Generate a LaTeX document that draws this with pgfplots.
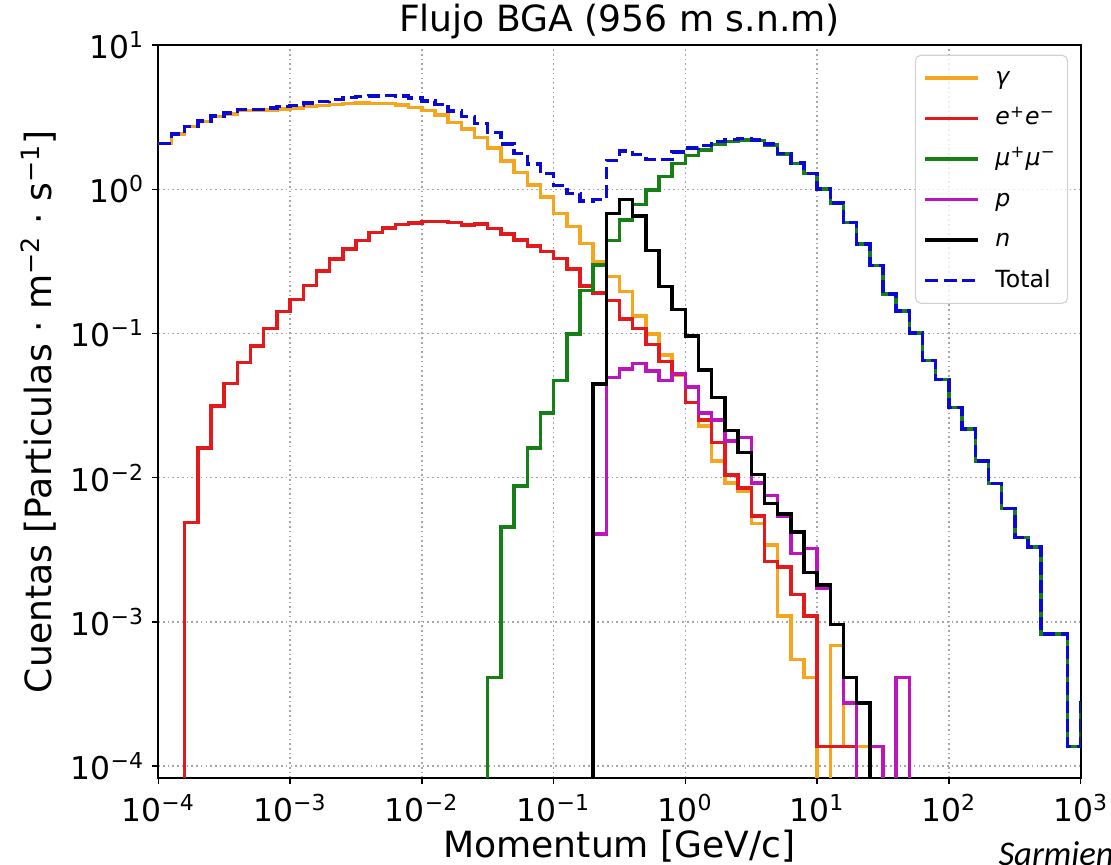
\documentclass[border=0pt]{standalone}
\usepackage{fontspec}
\setmainfont{DejaVu Sans}
\newfontfamily\carlito{Carlito}
\usepackage{pgfplots}
\usepackage{pgfplotstable}
\pgfplotsset{compat=1.18}

\definecolor{gam}{RGB}{245,165,30}
\definecolor{ele}{RGB}{226,26,28}
\definecolor{muo}{RGB}{22,128,22}
\definecolor{pro}{RGB}{190,20,190}
\definecolor{tot}{RGB}{10,10,210}

% 10^k labels with a real minus sign
\newcommand\tenpow[1]{\pgfmathtruncatemacro\ex{round(#1)}10\textsuperscript{\ifnum\ex<0 −\number\numexpr-\ex\relax\else\ex\fi}}

% left bin edges (10 per decade), counts per bin; 1e-6 = empty bin
\pgfplotstableread{
x        g        e        mu       p        n        tot
1.0000e-4 2.07    1e-6     1e-6     1e-6     1e-6     2.07
1.2589e-4 2.42    1e-6     1e-6     1e-6     1e-6     2.42
1.5849e-4 2.72    0.0049   1e-6     1e-6     1e-6     2.725
1.9953e-4 2.95    0.0161   1e-6     1e-6     1e-6     2.966
2.5119e-4 3.18    0.0314   1e-6     1e-6     1e-6     3.211
3.1623e-4 3.32    0.0449   1e-6     1e-6     1e-6     3.365
3.9811e-4 3.52    0.0628   1e-6     1e-6     1e-6     3.583
5.0119e-4 3.50    0.082    1e-6     1e-6     1e-6     3.582
6.3096e-4 3.55    0.108    1e-6     1e-6     1e-6     3.658
7.9433e-4 3.60    0.142    1e-6     1e-6     1e-6     3.742
1.0000e-3 3.65    0.172    1e-6     1e-6     1e-6     3.822
1.2589e-3 3.74    0.214    1e-6     1e-6     1e-6     3.954
1.5849e-3 3.80    0.270    1e-6     1e-6     1e-6     4.070
1.9953e-3 3.86    0.329    1e-6     1e-6     1e-6     4.189
2.5119e-3 3.94    0.386    1e-6     1e-6     1e-6     4.326
3.1623e-3 3.96    0.440    1e-6     1e-6     1e-6     4.400
3.9811e-3 3.94    0.500    1e-6     1e-6     1e-6     4.440
5.0119e-3 3.94    0.540    1e-6     1e-6     1e-6     4.480
6.3096e-3 3.85    0.567    1e-6     1e-6     1e-6     4.417
7.9433e-3 3.69    0.585    1e-6     1e-6     1e-6     4.275
1.0000e-2 3.50    0.597    1e-6     1e-6     1e-6     4.097
1.2589e-2 3.28    0.597    1e-6     1e-6     1e-6     3.877
1.5849e-2 2.90    0.590    1e-6     1e-6     1e-6     3.490
1.9953e-2 2.62    0.565    1e-6     1e-6     1e-6     3.185
2.5119e-2 2.28    0.572    1e-6     1e-6     1e-6     2.852
3.1623e-2 1.93    0.535    0.000411 1e-6     1e-6     2.465
3.9811e-2 1.57    0.490    0.00456  1e-6     1e-6     2.065
5.0119e-2 1.31    0.445    0.00875  1e-6     1e-6     1.764
6.3096e-2 1.07    0.405    0.0161   1e-6     1e-6     1.491
7.9433e-2 0.885   0.370    0.028    1e-6     1e-6     1.283
1.0000e-1 0.678   0.332    0.047    1e-6     1e-6     1.057
1.2589e-1 0.552   0.280    0.099    1e-6     1e-6     0.931
1.5849e-1 0.420   0.213    0.198    1e-6     1e-6     0.831
1.9953e-1 0.315   0.190    0.297    0.00405  0.0445   0.851
2.5119e-1 0.248   0.169    0.440    0.0495   0.678    1.585
3.1623e-1 0.195   0.126    0.610    0.0565   0.850    1.838
3.9811e-1 0.132   0.108    0.785    0.062    0.653    1.740
5.0119e-1 0.099   0.084    0.990    0.055    0.377    1.605
6.3096e-1 0.071   0.064    1.220    0.0472   0.211    1.613
7.9433e-1 0.051   0.052    1.510    0.0528   0.147    1.813
1.0000    0.042   0.0333   1.720    0.0425   0.0963   1.934
1.2589    0.0228  0.025    1.870    0.0281   0.0557   2.002
1.5849    0.013   0.0175   2.050    0.025    0.0358   2.141
1.9953    0.0092  0.0104   2.150    0.0179   0.0212   2.209
2.5119    0.0081  0.0085   2.200    0.019    0.0149   2.251
3.1623    0.0048  0.0054   2.170    0.0092   0.0105   2.200
3.9811    0.0034  0.00263  2.030    0.0075   0.0066   2.051
5.0119    0.0011  0.0024   1.760    0.0054   0.0056   1.775
6.3096    0.000548 0.00155 1.510    0.00297  0.0042   1.519
7.9433    0.000411 0.0011  1.280    0.00322  0.0022   1.287
10.000    1e-6    0.000137 1.000    0.0017   0.0018   1.004
12.589    0.000685 0.000137 0.800   0.000959 0.000959 0.803
15.849    0.000137 0.000137 0.588   0.000274 0.000411 0.589
19.953    0.000137 1e-6    0.418    1e-6     0.000274 0.418
25.119    1e-6    1e-6     0.295    0.000137 1e-6     0.295
31.623    1e-6    1e-6     0.188    1e-6     1e-6     0.188
39.811    1e-6    1e-6     0.143    0.000411 1e-6     0.143
50.119    1e-6    1e-6     0.101    1e-6     1e-6     0.101
63.096    1e-6    1e-6     0.065    1e-6     1e-6     0.065
79.433    1e-6    1e-6     0.0478   1e-6     1e-6     0.0478
100.00    1e-6    1e-6     0.0306   1e-6     1e-6     0.0306
125.89    1e-6    1e-6     0.0217   1e-6     1e-6     0.0217
158.49    1e-6    1e-6     0.0130   1e-6     1e-6     0.0130
199.53    1e-6    1e-6     0.0091   1e-6     1e-6     0.0091
251.19    1e-6    1e-6     0.0061   1e-6     1e-6     0.0061
316.23    1e-6    1e-6     0.00384  1e-6     1e-6     0.00384
398.11    1e-6    1e-6     0.00331  1e-6     1e-6     0.00331
501.19    1e-6    1e-6     0.000822 1e-6     1e-6     0.000822
630.96    1e-6    1e-6     0.000822 1e-6     1e-6     0.000822
794.33    1e-6    1e-6     0.000137 1e-6     1e-6     0.000137
1000.0    1e-6    1e-6     0.000274 1e-6     1e-6     0.000274
1258.9    1e-6    1e-6     1e-6     1e-6     1e-6     1e-6
}\hist

\begin{document}
\begin{tikzpicture}
\begin{axis}[
    name=ax,
    scale only axis,
    width=332.1pt, height=263.9pt,
    xmode=log, ymode=log,
    log basis x=10, log basis y=10,
    xmin=1e-4, xmax=1e3,
    ymin=8.26e-5, ymax=10,
    xtickten={-4,-3,-2,-1,0,1,2,3},
    ytickten={-4,-3,-2,-1,0,1},
    xticklabel={\tenpow{\tick}},
    yticklabel={\tenpow{\tick}},
    tick align=outside,
    xtick pos=bottom, ytick pos=left,
    major tick length=2.3pt, minor tick length=1.3pt,
    every tick/.style={black, line width=0.5pt},
    tick label style={font=\fontsize{11.3}{13}\selectfont},
    xticklabel style={anchor=north, inner sep=0pt, yshift=-3.3pt},
    yticklabel style={anchor=east, inner sep=0pt, xshift=-2.5pt},
    grid=major,
    major grid style={gray!70, line width=0.5pt, dash pattern=on 0.6pt off 1.1pt},
    axis line style={line width=0.6pt},
    title={Flujo BGA (956 m s.n.m)},
    title style={font=\fontsize{13}{15}\selectfont, at={(axis description cs:0.5,1)}, anchor=base, yshift=-1pt, inner sep=0pt},
    xlabel={Momentum [GeV/c]},
    xlabel style={font=\fontsize{13}{15}\selectfont, at={(axis description cs:0.5,0)}, anchor=base, yshift=-28.5pt, inner sep=0pt},
    ylabel={Cuentas [Particulas · m\textsuperscript{−2} · s\textsuperscript{−1}]},
    ylabel style={font=\fontsize{13}{15}\selectfont, at={(axis description cs:-0.1096,0.5)}, anchor=south, inner sep=0pt},
    every axis plot/.append style={const plot mark left, line width=1.25pt},
    legend image code/.code={\draw[#1] (0pt,0pt) -- (19pt,0pt); \path (-0.8pt,0pt) (22.6pt,0pt);},
    legend cell align=left,
    legend style={at={(rel axis cs:1,1)}, anchor=north east, xshift=-4.5pt, yshift=-3.5pt,
        draw=black!18, rounded corners=2pt, fill=white, fill opacity=0.8, text opacity=1, draw opacity=1,
        inner xsep=2.2pt, inner ysep=1.5pt, row sep=1.3pt,
        font=\fontsize{8.5}{10}\selectfont,
        nodes={text height=7pt, text depth=2.3pt, inner sep=2pt}},
]
\addplot[gam] table[x=x, y=g] {\hist};
\addlegendentry{\textit{γ}}
\addplot[ele] table[x=x, y=e] {\hist};
\addlegendentry{\textit{e}\textsuperscript{+}\textit{e}\textsuperscript{−}}
\addplot[muo] table[x=x, y=mu] {\hist};
\addlegendentry{\textit{μ}\textsuperscript{+}\textit{μ}\textsuperscript{−}}
\addplot[pro] table[x=x, y=p] {\hist};
\addlegendentry{\textit{p}}
\addplot[black] table[x=x, y=n] {\hist};
\addlegendentry{\textit{n}}
\addplot[tot, dash pattern=on 4.6pt off 2pt] table[x=x, y=tot] {\hist};
\addlegendentry{Total}
\end{axis}
\node[anchor=base west, inner sep=0pt, font=\carlito\itshape\fontsize{12.5}{14}\selectfont]
    at ([shift={(302.3pt,-31.6pt)}]ax.south west) {Sarmiento et al.};
\pgfresetboundingbox
\path[use as bounding box] ([shift={(-57pt,-31.3pt)}]ax.south west) rectangle ([shift={(10.9pt,16.2pt)}]ax.north east);
\end{tikzpicture}
\end{document}
